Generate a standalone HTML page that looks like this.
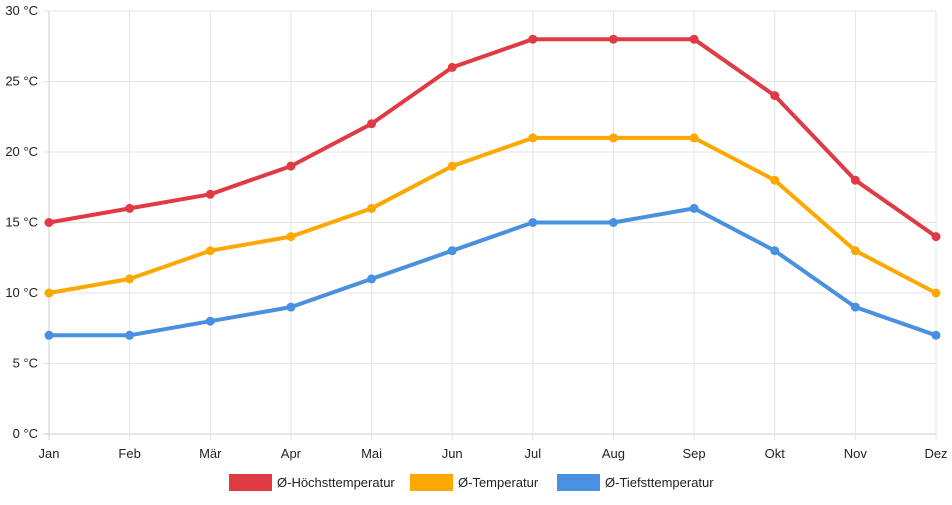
<!DOCTYPE html>
<html><head><meta charset="utf-8"><style>
body{margin:0;background:#fff;font-family:"Liberation Sans",sans-serif}
svg text{font-family:"Liberation Sans",sans-serif;font-size:13px;fill:#222}
</style></head><body>
<svg id="c" width="952" height="500"></svg>
<script>
const months=["Jan","Feb","Mär","Apr","Mai","Jun","Jul","Aug","Sep","Okt","Nov","Dez"];
const maxT=[15,16,17,19,22,26,28,28,28,24,18,14];
const avgT=[10,11,13,14,16,19,21,21,21,18,13,10];
const minT=[7,7,8,9,11,13,15,15,16,13,9,7];
const yTicks=[0,5,10,15,20,25,30];
const seriesNames=["Ø-Höchsttemperatur","Ø-Temperatur","Ø-Tiefsttemperatur"];
const colors=["#e03a45","#fca800","#4a90e0"];
const svg=document.getElementById('c');const NS="http://www.w3.org/2000/svg";
const X0=49,X1=936,Y0=434,Y1=11;
const x=i=>X0+(X1-X0)*i/(months.length-1);
const y=v=>Y0-(Y0-Y1)*v/30;
function mk(t,a,p){const e=document.createElementNS(NS,t);for(const k in a)e.setAttribute(k,a[k]);(p||svg).appendChild(e);return e;}
yTicks.forEach(v=>{const l=mk('line',{x1:X0-6,x2:X1,y1:y(v),y2:y(v),stroke:v===0?'#ccc':'#e4e4e4'});


const t=mk('text',{x:X0-11,y:y(v)+4,'text-anchor':'end'});t.textContent=v+' °C';

});
months.forEach((m,i)=>{const l=mk('line',{x1:x(i),x2:x(i),y1:Y1,y2:Y0+6,stroke:i===0?'#ccc':'#e4e4e4'});


const t=mk('text',{x:x(i),y:Y0+24,'text-anchor':'middle'});t.textContent=m;

});
[maxT,avgT,minT].forEach((d,s)=>{const g=mk('g',{});


const p=mk('polyline',{points:d.map((v,i)=>x(i)+','+y(v)).join(' '),fill:'none',stroke:colors[s],'stroke-width':4,'stroke-linejoin':'round'},g);


d.forEach((v,i)=>{const c=mk('circle',{cx:x(i),cy:y(v),r:4.5,fill:colors[s]},g);

});});
const lx=[229,410,557];
seriesNames.forEach((n,s)=>{const g=mk('g',{});


mk('rect',{x:lx[s],y:474,width:43,height:17,fill:colors[s]},g);
const t=mk('text',{x:lx[s]+48,y:487},g);t.textContent=n;});
</script>
</body></html>
